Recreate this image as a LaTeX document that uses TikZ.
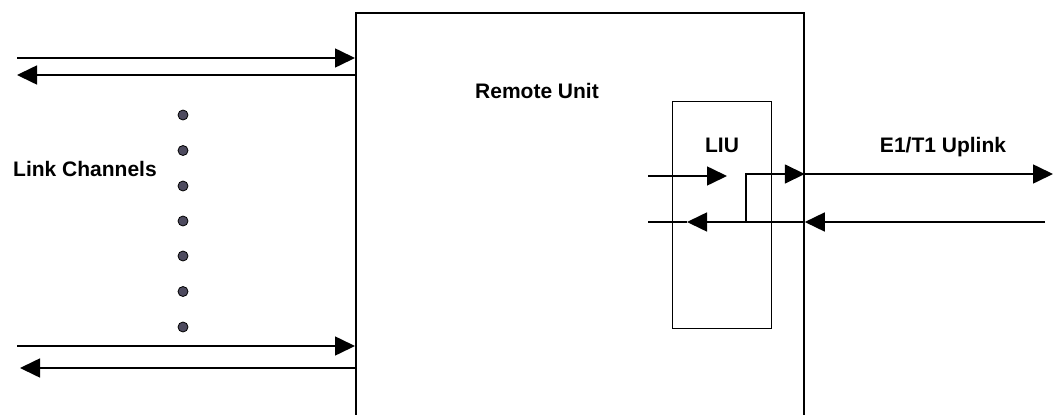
\documentclass[tikz,border=0pt]{standalone}
\usepackage{fontspec}
\setmainfont{Liberation Sans}
\usetikzlibrary{arrows.meta}
\definecolor{dotfill}{HTML}{4D4A5E}
\tikzset{
  arr/.style={-{Triangle[length=20pt,width=19pt]}, line width=1.6pt},
  plain/.style={line width=1.6pt},
  lbl/.style={font=\fontsize{21}{25}\selectfont\bfseries, inner sep=0pt, anchor=base},
  chdot/.style={circle, draw=black, fill=dotfill, line width=0.8pt, minimum size=10pt, inner sep=0pt},
  mainbox/.style={draw, line width=1.8pt, inner sep=0pt, anchor=north west},
  liubox/.style={draw, line width=1.2pt, inner sep=0pt, anchor=north west}
}
\begin{document}
\begin{tikzpicture}[x=1pt,y=-1pt]
\useasboundingbox (0,0) rectangle (1055,415);
% boxes
\node[mainbox, minimum width=448pt, minimum height=430pt] (ru) at (355,12) {};
\node[liubox, minimum width=99pt, minimum height=227pt] (liu) at (672,101) {};
% texts
\node[lbl] (rutext) at (537,98) {Remote Unit};
\node[lbl] (lc) at (85,176) {Link Channels};
\node[lbl] (liutext) at (722,152) {LIU};
\node[lbl] (e1) at (943,152) {E1/T1 Uplink};
% dots
\foreach \i/\y in {1/115,2/150.5,3/186,4/221,5/256,6/291.5,7/327}
  \node[chdot] (d\i) at (183,\y) {};
% left free ends
\coordinate (a1) at (17,58);
\coordinate (a2) at (17,75);
\coordinate (a3) at (17,346);
\coordinate (a4) at (20,368);
\draw[arr] (a1) -- (a1 -| ru.west);
\draw[arr] (a2 -| ru.west) -- (a2);
\draw[arr] (a3) -- (a3 -| ru.west);
\draw[arr] (a4 -| ru.west) -- (a4);
% LIU internal
\coordinate (in1) at (648,176);
\coordinate (in1t) at (727,176);
\draw[arr] (in1) -- (in1t);
\coordinate (j) at (746,222);
\coordinate (jt) at (746,174);
\draw[arr] (j) -- (jt) -- (jt -| ru.east);
\coordinate (out1) at (1053,174);
\draw[arr] (jt -| ru.east) -- (out1);
\coordinate (rx) at (1045,222);
\draw[arr] (rx) -- (rx -| ru.east);
\coordinate (rxt) at (687,222);
\coordinate (rxe) at (648,222);
\draw[arr] (rx -| ru.east) -- (rxt);
\draw[plain] (rxt) -- (rxe);
\end{tikzpicture}
\end{document}
